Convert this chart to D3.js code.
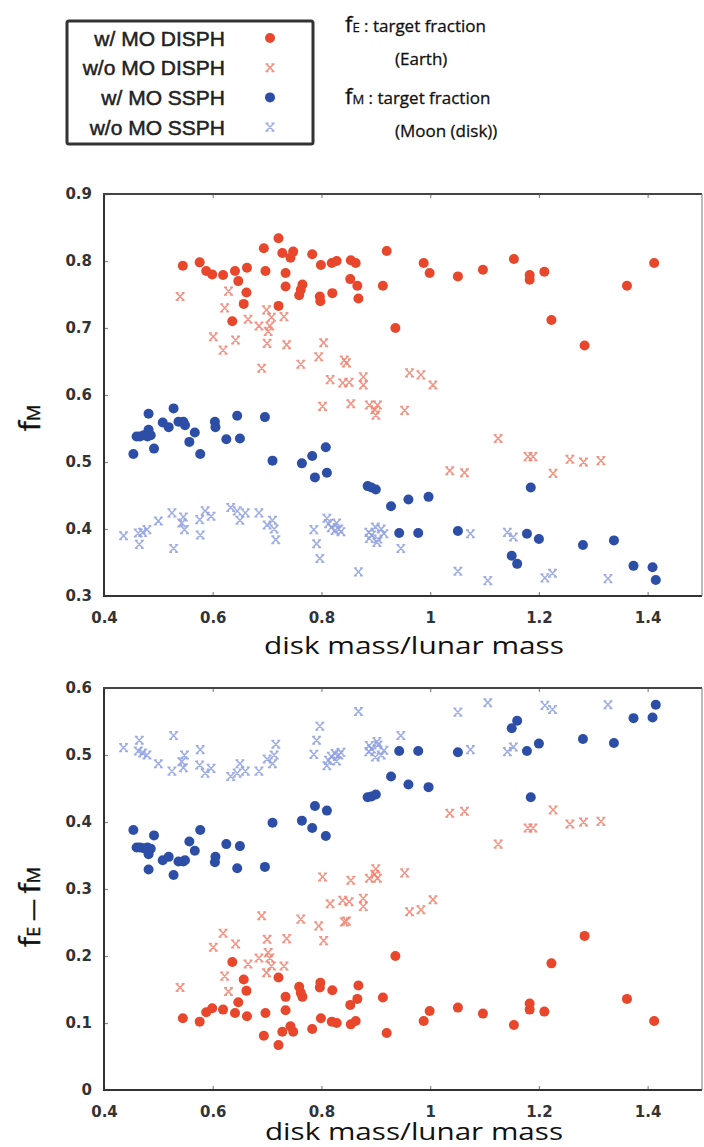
<!DOCTYPE html>
<html>
<head>
<meta charset="utf-8">
<script src="https://cdn.jsdelivr.net/npm/d3@7"></script>
<style>
  body { margin: 0; background: #fff; }
  svg { display: block; }
  .tick text { font-family: "DejaVu Sans", sans-serif; font-weight: bold; font-size: 15px; fill: #333; }
  .tick line { stroke: #888; stroke-width: 1.2; }
  .domain { display: none; }
</style>
</head>
<body>
<div id="chart"></div>
<script>
// ---- data: disk mass, fM, fE - fM ----
var seriesNames = ['w/ MO DISPH', 'w/o MO DISPH', 'w/ MO SSPH', 'w/o MO SSPH'];

var xTicks = [0.4, 0.6, 0.8, 1, 1.2, 1.4];
var fmTicks = [0.3, 0.4, 0.5, 0.6, 0.7, 0.8, 0.9];
var diffTicks = [0, 0.1, 0.2, 0.3, 0.4, 0.5, 0.6];

// w/ MO DISPH
var disphMoMass = [0.545, 0.576, 0.588, 0.599, 0.619, 0.641, 0.647, 0.663, 0.662, 0.657, 0.636, 0.694, 0.697,
  0.721, 0.728, 0.748, 0.743, 0.734, 0.734, 0.721, 0.765, 0.759, 0.762, 0.783, 0.799, 0.797, 0.798, 0.819,
  0.828, 0.820, 0.854, 0.863, 0.853, 0.866, 0.868, 0.920, 0.913, 0.936, 0.988, 0.999, 1.051, 1.097, 1.154,
  1.183, 1.183, 1.210, 1.223, 1.284, 1.362, 1.412];
var disphMoFM = [0.793, 0.798, 0.785, 0.780, 0.779, 0.785, 0.770, 0.790, 0.753, 0.736, 0.710, 0.819, 0.785,
  0.834, 0.812, 0.814, 0.805, 0.782, 0.762, 0.733, 0.765, 0.749, 0.757, 0.810, 0.794, 0.747, 0.740, 0.797,
  0.800, 0.752, 0.801, 0.797, 0.773, 0.763, 0.744, 0.815, 0.763, 0.700, 0.797, 0.782, 0.777, 0.787, 0.803,
  0.779, 0.772, 0.784, 0.712, 0.674, 0.763, 0.797];
var disphMoDiff = [0.107, 0.102, 0.116, 0.122, 0.120, 0.115, 0.131, 0.110, 0.148, 0.165, 0.191, 0.081, 0.115,
  0.067, 0.087, 0.087, 0.095, 0.119, 0.139, 0.168, 0.139, 0.154, 0.145, 0.091, 0.107, 0.153, 0.160, 0.102,
  0.100, 0.149, 0.098, 0.103, 0.127, 0.136, 0.156, 0.085, 0.138, 0.200, 0.103, 0.118, 0.123, 0.114, 0.097,
  0.120, 0.129, 0.117, 0.189, 0.230, 0.136, 0.103];

// w/o MO DISPH
var disphNoMass = [0.540, 0.629, 0.622, 0.601, 0.619, 0.642, 0.665, 0.685, 0.699, 0.702, 0.705, 0.708, 0.731,
  0.700, 0.736, 0.690, 0.762, 0.804, 0.795, 0.816, 0.842, 0.846, 0.839, 0.851, 0.877, 0.877, 0.962, 0.983,
  1.005, 0.802, 0.854, 0.888, 0.903, 0.898, 0.900, 0.953, 1.125, 1.036, 1.063, 1.180, 1.189, 1.226, 1.257,
  1.282, 1.314];
var disphNoFM = [0.747, 0.755, 0.730, 0.687, 0.667, 0.682, 0.713, 0.703, 0.727, 0.695, 0.703, 0.716, 0.717,
  0.677, 0.675, 0.640, 0.646, 0.678, 0.657, 0.623, 0.652, 0.648, 0.618, 0.619, 0.627, 0.615, 0.633, 0.630,
  0.615, 0.583, 0.587, 0.585, 0.585, 0.578, 0.570, 0.577, 0.535, 0.487, 0.484, 0.508, 0.508, 0.483, 0.504,
  0.500, 0.502];
var disphNoDiff = [0.153, 0.147, 0.170, 0.213, 0.234, 0.218, 0.188, 0.197, 0.175, 0.205, 0.197, 0.185, 0.185,
  0.225, 0.226, 0.260, 0.255, 0.223, 0.245, 0.278, 0.251, 0.252, 0.283, 0.281, 0.274, 0.286, 0.266, 0.269,
  0.284, 0.318, 0.313, 0.316, 0.316, 0.322, 0.330, 0.324, 0.367, 0.413, 0.416, 0.391, 0.391, 0.418, 0.397,
  0.400, 0.401];

// w/ MO SSPH
var ssphMoMass = [0.454, 0.460, 0.466, 0.473, 0.480, 0.486, 0.482, 0.482, 0.492, 0.508, 0.519, 0.528, 0.537,
  0.546, 0.549, 0.557, 0.567, 0.577, 0.604, 0.605, 0.625, 0.645, 0.650, 0.696, 0.710, 0.764, 0.783, 0.788,
  0.808, 0.810, 0.885, 0.892, 0.900, 0.928, 0.960, 0.997, 0.943, 0.978, 1.051, 1.185, 1.178, 1.200, 1.150,
  1.160, 1.281, 1.338, 1.374, 1.409, 1.415];
var ssphMoFM = [0.512, 0.538, 0.538, 0.540, 0.538, 0.540, 0.548, 0.572, 0.520, 0.559, 0.552, 0.580, 0.560,
  0.560, 0.555, 0.530, 0.544, 0.512, 0.560, 0.552, 0.534, 0.569, 0.535, 0.567, 0.502, 0.498, 0.509, 0.477,
  0.522, 0.484, 0.464, 0.462, 0.459, 0.434, 0.444, 0.448, 0.394, 0.394, 0.397, 0.462, 0.393, 0.385, 0.360,
  0.348, 0.376, 0.383, 0.345, 0.343, 0.324];
var ssphMoDiff = [0.388, 0.362, 0.362, 0.361, 0.362, 0.360, 0.352, 0.329, 0.380, 0.343, 0.348, 0.321, 0.341,
  0.341, 0.343, 0.371, 0.357, 0.388, 0.340, 0.348, 0.367, 0.331, 0.364, 0.333, 0.399, 0.402, 0.391, 0.424,
  0.379, 0.417, 0.437, 0.438, 0.441, 0.468, 0.456, 0.452, 0.506, 0.506, 0.504, 0.437, 0.506, 0.517, 0.540,
  0.551, 0.524, 0.518, 0.555, 0.556, 0.575];

// w/o MO SSPH
var ssphNoMass = [0.436, 0.463, 0.465, 0.471, 0.479, 0.500, 0.525, 0.528, 0.543, 0.546, 0.548, 0.577, 0.576,
  0.586, 0.597, 0.633, 0.645, 0.650, 0.660, 0.685, 0.700, 0.710, 0.713, 0.716, 0.786, 0.791, 0.797, 0.810,
  0.813, 0.818, 0.825, 0.828, 0.832, 0.868, 0.836, 0.887, 0.888, 0.892, 0.899, 0.904, 0.910, 0.915, 0.902,
  0.946, 1.051, 1.074, 1.106, 1.142, 1.153, 1.211, 1.225, 1.327];
var ssphNoFM = [0.390, 0.394, 0.377, 0.395, 0.399, 0.412, 0.424, 0.371, 0.409, 0.418, 0.399, 0.391, 0.414,
  0.427, 0.419, 0.432, 0.427, 0.413, 0.424, 0.424, 0.406, 0.413, 0.400, 0.384, 0.399, 0.378, 0.356, 0.416,
  0.408, 0.402, 0.398, 0.409, 0.400, 0.336, 0.396, 0.395, 0.386, 0.391, 0.403, 0.385, 0.400, 0.393, 0.380,
  0.371, 0.337, 0.393, 0.323, 0.395, 0.388, 0.327, 0.334, 0.326];
var ssphNoDiff = [0.511, 0.506, 0.522, 0.503, 0.500, 0.487, 0.476, 0.529, 0.490, 0.481, 0.500, 0.508, 0.485,
  0.473, 0.480, 0.468, 0.473, 0.487, 0.476, 0.476, 0.494, 0.487, 0.500, 0.516, 0.501, 0.522, 0.543, 0.484,
  0.492, 0.498, 0.502, 0.491, 0.500, 0.565, 0.504, 0.505, 0.514, 0.509, 0.497, 0.515, 0.500, 0.507, 0.520,
  0.529, 0.564, 0.508, 0.578, 0.505, 0.512, 0.574, 0.568, 0.575];

var colors = ['#e8472b', '#f2806e', '#2c4ea6', '#8e9fe0'];

// crosses first so the dots sit on top
var series = [
  { name: seriesNames[1], mass: disphNoMass, fm: disphNoFM, diff: disphNoDiff, color: colors[1], cross: true },
  { name: seriesNames[3], mass: ssphNoMass, fm: ssphNoFM, diff: ssphNoDiff, color: colors[3], cross: true },
  { name: seriesNames[0], mass: disphMoMass, fm: disphMoFM, diff: disphMoDiff, color: colors[0], cross: false },
  { name: seriesNames[2], mass: ssphMoMass, fm: ssphMoFM, diff: ssphMoDiff, color: colors[2], cross: false }
];

var W = 704, H = 1147;
var svg = d3.select('#chart').append('svg').attr('width', W).attr('height', H);
svg.append('rect').attr('width', W).attr('height', H).attr('fill', '#fff');

var crossPath = 'M-3.6,-3.6L3.6,3.6M-3.6,3.6L3.6,-3.6M-4.5,-3.8H-1.5M1.5,-3.8H4.5M-4.5,3.8H-1.5M1.5,3.8H4.5';

function drawMark(g, d, color, cross) {
  if (cross) {
    g.append('path').attr('d', crossPath)
      .attr('transform', 'translate(' + d[0] + ',' + d[1] + ')')
      .attr('stroke', color).attr('stroke-width', 1.5).attr('fill', 'none').attr('opacity', 0.85);
  } else {
    g.append('circle').attr('cx', d[0]).attr('cy', d[1]).attr('r', 5).attr('fill', color);
  }
}

function panel(top, bottom, yTicks, key, xTitleY, xTitleLen) {
  var x = d3.scaleLinear().domain([0.4, 1.5]).range([104, 702]);
  var y = d3.scaleLinear().domain([yTicks[0], yTicks[yTicks.length - 1]]).range([bottom, top]);
  var g = svg.append('g');

  g.append('g').attr('transform', 'translate(0,' + bottom + ')')
    .call(d3.axisBottom(x).tickValues(xTicks).tickSize(-4).tickPadding(16).tickFormat(d => String(d)));
  g.append('g').attr('transform', 'translate(0,' + top + ')')
    .call(d3.axisTop(x).tickValues(xTicks).tickSize(-4).tickFormat(''));
  g.append('g').attr('transform', 'translate(104,0)')
    .call(d3.axisLeft(y).tickValues(yTicks).tickSize(-4).tickPadding(12).tickFormat(d => String(d)));

  // frame
  g.append('line').attr('x1', 104).attr('x2', 104).attr('y1', top).attr('y2', bottom).attr('stroke', '#333').attr('stroke-width', 2);
  g.append('line').attr('x1', 103).attr('x2', 702).attr('y1', bottom).attr('y2', bottom).attr('stroke', '#333').attr('stroke-width', 2);
  g.append('line').attr('x1', 103).attr('x2', 702).attr('y1', top).attr('y2', top).attr('stroke', '#444').attr('stroke-width', 2);
  g.append('line').attr('x1', 702).attr('x2', 702).attr('y1', top).attr('y2', bottom).attr('stroke', '#777').attr('stroke-width', 1);

  var marks = g.append('g');
  series.forEach(s => {
    s.mass.forEach((m, i) => {
      drawMark(marks, [x(m), y(s[key][i])], s.color, s.cross);
    });
  });

  g.append('text').attr('x', 414).attr('y', xTitleY)
    .attr('text-anchor', 'middle')
    .attr('textLength', xTitleLen).attr('lengthAdjust', 'spacingAndGlyphs')
    .style('font-family', '"Open Sans", sans-serif').style('font-size', '24px').style('fill', '#111')
    .text('disk mass/lunar mass');
}

panel(194, 596, fmTicks, 'fm', 654, 300);
panel(688, 1090, diffTicks, 'diff', 1140, 298);

// y axis titles (rotated)
function fLabel(parts, cx, cy) {
  var t = svg.append('text')
    .attr('transform', 'translate(' + cx + ',' + cy + ') rotate(-90)')
    .attr('text-anchor', 'middle')
    .style('font-family', '"Open Sans", sans-serif').style('fill', '#111')
    .style('stroke', '#111').style('stroke-width', 0.4);
  parts.forEach(p => {
    t.append('tspan').style('font-size', p[1] + 'px').text(p[0]);
  });
}
fLabel([['f', 30], ['M', 18]], 40, 418);
fLabel([['f', 30], ['E', 18], [' \u2014 ', 22], ['f', 30], ['M', 18]], 40, 907);

// legend
var lg = svg.append('g');
lg.append('rect').attr('x', 67).attr('y', 21).attr('width', 246).attr('height', 123).attr('rx', 2)
  .attr('fill', '#fff').attr('stroke', '#333').attr('stroke-width', 3);
var legendOrder = [
  [seriesNames[0], colors[0], false],
  [seriesNames[1], colors[1], true],
  [seriesNames[2], colors[2], false],
  [seriesNames[3], colors[3], true]
];
legendOrder.forEach((d, i) => {
  var cy = 38 + i * 29.7;
  lg.append('text').attr('x', 225).attr('y', cy + 7.5).attr('text-anchor', 'end')
    .style('font-family', '"Liberation Sans", sans-serif').style('font-size', '21px').style('fill', '#222')
    .style('stroke', '#222').style('stroke-width', 0.5)
    .text(d[0]);
  drawMark(lg, [270, cy], d[1], d[2]);
});

// fraction notes
function note(sub, x, y) {
  var t = svg.append('text').attr('x', x).attr('y', y)
    .style('font-family', '"Open Sans", sans-serif').style('fill', '#111')
    .style('stroke', '#111').style('stroke-width', 0.3);
  t.append('tspan').style('font-size', '22px').text('f');
  t.append('tspan').style('font-size', '13px').text(sub);
  t.append('tspan').style('font-size', '17px').text(' : target fraction');
}
note('E', 345, 32);
svg.append('text').attr('x', 395).attr('y', 65).style('font-family', '"Open Sans", sans-serif')
  .style('font-size', '17px').style('fill', '#111').style('stroke', '#111').style('stroke-width', 0.3)
  .text('(Earth)');
note('M', 345, 104);
svg.append('text').attr('x', 395).attr('y', 137).style('font-family', '"Open Sans", sans-serif')
  .style('font-size', '17px').style('fill', '#111').style('stroke', '#111').style('stroke-width', 0.3)
  .text('(Moon (disk))');
</script>
</body>
</html>
